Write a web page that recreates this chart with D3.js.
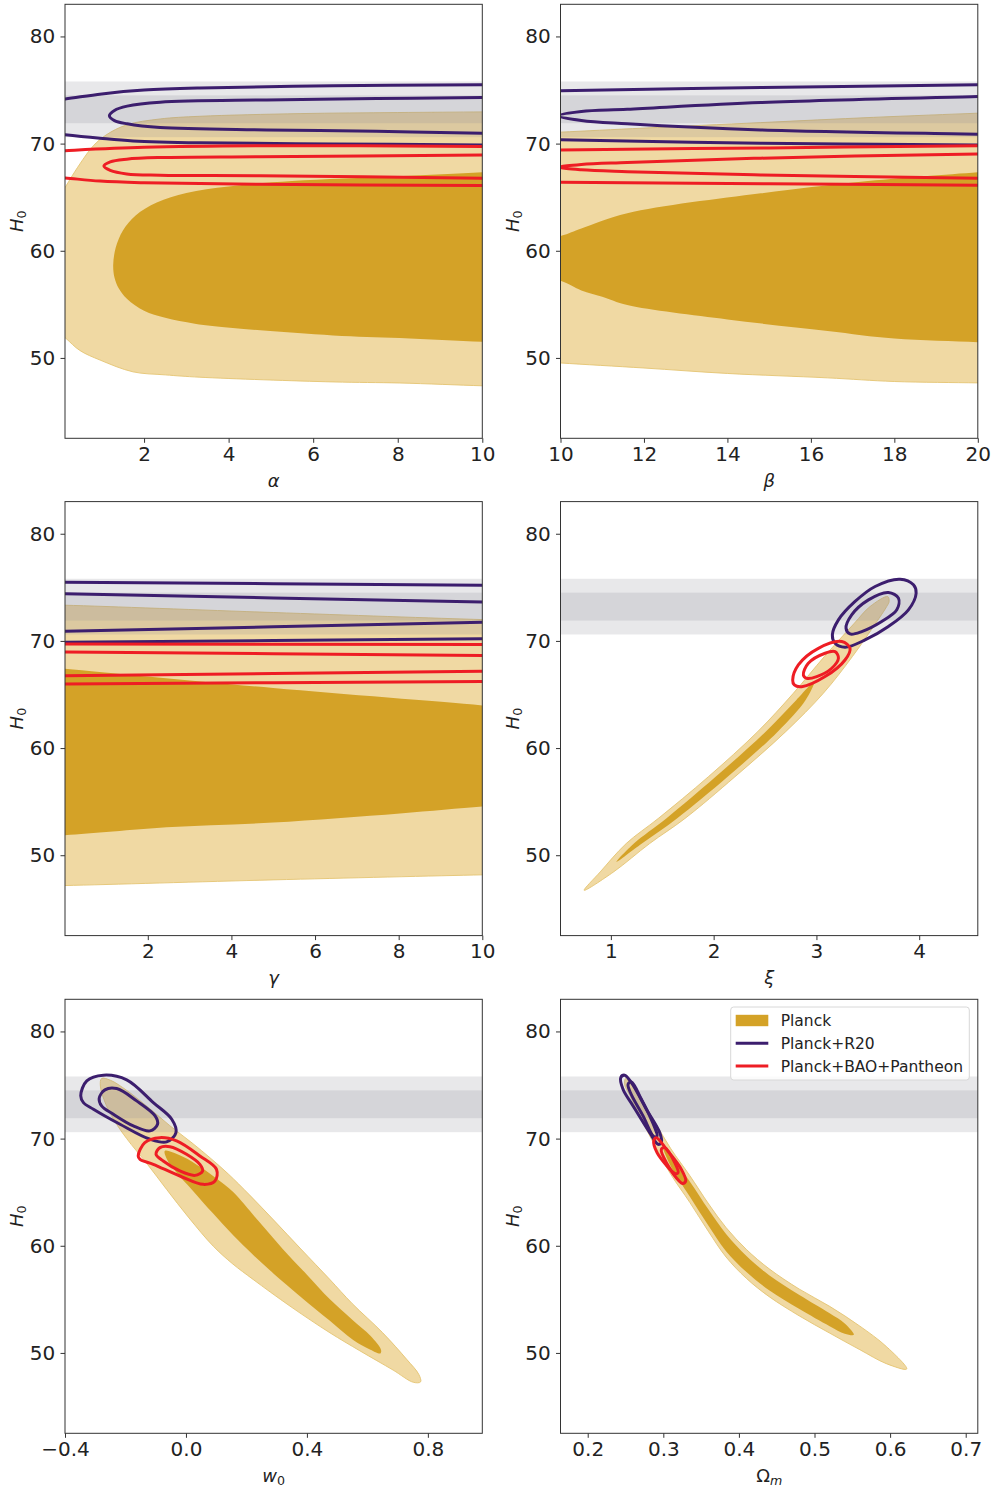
<!DOCTYPE html>
<html>
<head>
<meta charset="utf-8">
<script src="https://cdn.jsdelivr.net/npm/d3@7"></script>
<style>
body { margin: 0; background: #fff; }
text { font-family: "DejaVu Sans", sans-serif; fill: #222; }
</style>
</head>
<body>
<script>
// H0 local measurement (R20), drawn as 1 and 2 sigma bands
const r20Mean = 73.2;
const r20Sigma = 1.3;

const yTicks = [50, 60, 70, 80];
const alphaTicks = [2, 4, 6, 8, 10];
const betaTicks = [10, 12, 14, 16, 18, 20];
const gammaTicks = [2, 4, 6, 8, 10];
const xiTicks = [1, 2, 3, 4];
const w0Ticks = [-0.4, 0, 0.4, 0.8];
const omTicks = [0.2, 0.3, 0.4, 0.5, 0.6, 0.7];

const h0Range = [42.5, 83];
const alphaRange = [0.13, 10];
const betaRange = [10, 20];
const gammaRange = [0.02, 10];
const xiRange = [0.51, 4.57];
const w0Range = [-0.4, 0.98];
const omRange = [0.164, 0.716];

// contours: [parameter, H0], closed outlines (points past the frame get clipped)
const alphaPlanck2 = [[-1, 59.2], [0.13, 65.9], [0.3, 67.0], [0.55, 68.5], [0.8, 69.8], [1.1, 70.8], [1.59, 71.75], [2.38, 72.3], [3.32, 72.55], [5.69, 72.8], [8, 72.9], [10, 72.96], [11, 73.0], [11, 47.3], [10, 47.4], [8.05, 47.66], [6.47, 47.76], [3.32, 48.2], [2.5, 48.42], [1.74, 48.7], [0.96, 49.8], [0.48, 50.7], [0.13, 51.9], [-1, 55.7]];
const alphaPlanck1 = [[1.27, 58.7], [1.33, 60.3], [1.5, 61.9], [1.8, 63.3], [2.3, 64.5], [3.0, 65.4], [4.0, 66.0], [5.5, 66.5], [8, 66.95], [10, 67.33], [11, 67.5], [11, 51.4], [10, 51.5], [8.05, 51.85], [6.47, 52.1], [4.1, 52.8], [3.2, 53.2], [2.5, 53.75], [2.0, 54.4], [1.6, 55.5], [1.4, 56.5], [1.3, 57.5]];
const alphaR20_2 = [[-1, 73.6], [0.13, 74.16], [1.0, 74.64], [2.0, 75.0], [3.32, 75.2], [6.47, 75.4], [10, 75.5], [11, 75.5], [11, 69.88], [10, 69.88], [6.47, 69.97], [3.32, 70.07], [1.74, 70.25], [0.96, 70.5], [0.13, 70.83], [-1, 71.4]];
const alphaR20_1 = [[1.18, 72.6], [1.3, 73.1], [1.6, 73.5], [2.38, 73.87], [4.9, 74.08], [7.5, 74.2], [10, 74.3], [11, 74.35], [11, 70.95], [10, 70.97], [7.5, 71.15], [4.9, 71.28], [2.38, 71.5], [1.6, 71.85], [1.3, 72.15]];
const alphaBAO_2 = [[-1, 69.1], [0.13, 69.34], [2, 69.65], [4.74, 69.8], [10, 69.74], [11, 69.74], [11, 66.1], [10, 66.1], [4.74, 66.2], [2, 66.35], [0.96, 66.5], [0.13, 66.8], [-1, 67.2]];
const alphaBAO_1 = [[1.05, 67.9], [1.2, 68.3], [1.59, 68.55], [2.38, 68.7], [4.74, 68.78], [10, 68.94], [11, 69.0], [11, 66.75], [10, 66.77], [4.74, 67.0], [2.38, 67.05], [1.59, 67.17], [1.2, 67.5]];

const betaPlanck2 = [[9, 70.9], [10, 71.07], [12, 71.45], [14.8, 71.96], [17.5, 72.45], [20, 72.84], [21, 73.0], [21, 47.6], [20, 47.67], [18, 47.8], [16.4, 48.14], [14.0, 48.55], [12, 49.06], [10, 49.53], [9, 49.8]];
const betaPlanck1 = [[8, 59.5], [10, 61.37], [10.5, 62.08], [11.6, 63.5], [14.8, 65.36], [17.2, 66.45], [20, 67.33], [21, 67.6], [21, 51.3], [20, 51.47], [18, 51.81], [16.4, 52.52], [14, 53.59], [11.6, 54.93], [11, 55.7], [10.5, 56.3], [10, 57.2], [8, 59.0]];
const betaR20_2 = [[9, 74.85], [10, 74.93], [14.8, 75.23], [20, 75.49], [21, 75.55], [21, 69.85], [20, 69.88], [14.8, 70.04], [10, 70.35], [9, 70.45]];
const betaR20_1 = [[9.95, 72.6], [10.5, 73.0], [11.6, 73.2], [14.8, 73.83], [20, 74.4], [21, 74.5], [21, 70.8], [20, 70.88], [14.8, 71.28], [11.6, 71.85], [10.5, 72.15]];
const betaBAO_2 = [[9, 69.35], [10, 69.41], [15, 69.6], [20, 69.81], [21, 69.85], [21, 66.1], [20, 66.11], [15, 66.25], [10, 66.39], [9, 66.42]];
const betaBAO_1 = [[9.97, 67.79], [10.5, 68.05], [11.6, 68.23], [14.8, 68.64], [20, 69.04], [21, 69.1], [21, 66.7], [20, 66.76], [14.8, 67.07], [11.6, 67.38], [10.5, 67.55]];

const gammaPlanck2 = [[-1, 73.4], [0.02, 73.33], [5, 72.65], [10, 71.99], [11, 71.9], [11, 48.25], [10, 48.17], [5, 47.7], [0.02, 47.17], [-1, 47.1]];
const gammaPlanck1 = [[-1, 67.8], [0.02, 67.41], [5, 65.6], [10, 63.98], [11, 63.6], [11, 54.8], [10, 54.55], [8.03, 53.9], [5, 53.05], [2.45, 52.6], [0.02, 51.87], [-1, 51.8]];
const gammaR20_2 = [[-1, 75.5], [0.02, 75.48], [10, 75.2], [11, 75.17], [11, 70.25], [10, 70.21], [0.02, 69.87], [-1, 69.84]];
const gammaR20_1 = [[-1, 74.47], [0.02, 74.39], [10, 73.64], [11, 73.56], [11, 71.82], [10, 71.74], [0.02, 70.9], [-1, 70.82]];
const gammaBAO_2 = [[-1, 69.73], [0.02, 69.72], [10, 69.66], [11, 69.65], [11, 66.24], [10, 66.22], [0.02, 65.98], [-1, 65.96]];
const gammaBAO_1 = [[-1, 69.0], [0.02, 68.97], [10, 68.63], [11, 68.6], [11, 67.2], [10, 67.16], [0.02, 66.76], [-1, 66.72]];

const xiPlanck2 = [[0.740, 46.73], [0.896, 48.44], [1.149, 51.09], [1.461, 53.43], [1.948, 57.32], [2.428, 61.53], [2.775, 65.11], [3.077, 68.54], [3.369, 71.65], [3.522, 73.21], [3.694, 74.14], [3.707, 73.68], [3.684, 73.21], [3.577, 71.65], [3.350, 68.54], [3.067, 65.11], [2.701, 61.53], [2.207, 57.32], [1.721, 53.43], [1.377, 51.09], [1.026, 48.44]];
const xiPlanck1 = [[1.055, 49.38], [1.224, 51.09], [1.539, 53.43], [2.019, 57.32], [2.506, 61.53], [2.805, 64.49], [2.980, 66.20], [2.895, 64.49], [2.623, 61.53], [2.136, 57.32], [1.643, 53.43], [1.302, 51.09]];
const xiR20_2 = [[3.155, 70.56], [3.214, 71.96], [3.376, 73.68], [3.571, 75.08], [3.814, 75.76], [3.944, 75.23], [3.970, 74.45], [3.895, 72.90], [3.700, 71.34], [3.473, 70.09], [3.278, 69.41], [3.181, 69.78]];
const xiR20_1 = [[3.288, 71.18], [3.343, 72.43], [3.506, 73.83], [3.700, 74.52], [3.798, 73.99], [3.782, 72.90], [3.635, 71.81], [3.441, 70.87], [3.327, 70.65]];
const xiBAO_2 = [[2.769, 66.36], [2.824, 67.76], [3.019, 69.31], [3.246, 69.94], [3.327, 69.31], [3.278, 68.22], [3.084, 66.67], [2.857, 65.73], [2.785, 65.89]];
const xiBAO_1 = [[2.873, 66.82], [2.921, 67.91], [3.084, 68.85], [3.181, 69.00], [3.214, 68.38], [3.149, 67.45], [3.003, 66.67], [2.905, 66.51]];

const w0Planck2 = [[-0.279, 75.61], [-0.283, 74.9], [-0.265, 73.2], [-0.235, 71.6], [-0.196, 70.0], [-0.13, 67.7], [-0.064, 65.26], [0.01, 62.6], [0.09, 59.97], [0.155, 58.3], [0.222, 56.86], [0.344, 54.37], [0.476, 51.88], [0.575, 50.2], [0.685, 48.4], [0.752, 47.26], [0.776, 47.3], [0.77, 48.0], [0.73, 49.4], [0.65, 51.9], [0.55, 54.6], [0.476, 56.85], [0.38, 59.7], [0.29, 62.4], [0.21, 64.75], [0.14, 66.7], [0.08, 68.2], [0.02, 69.6], [-0.053, 71.2], [-0.12, 72.8], [-0.196, 74.5], [-0.25, 75.45]];
const w0Planck1 = [[-0.07, 68.85], [-0.01, 68.3], [0.05, 67.3], [0.10, 66.3], [0.157, 65.0], [0.24, 62.3], [0.32, 59.7], [0.40, 57.3], [0.476, 55.0], [0.55, 53.1], [0.61, 51.6], [0.645, 50.3], [0.643, 49.95], [0.61, 50.3], [0.553, 51.2], [0.476, 53.0], [0.377, 55.3], [0.29, 57.4], [0.22, 59.2], [0.157, 60.95], [0.09, 63.0], [0.019, 65.26], [-0.03, 66.8], [-0.06, 67.9]];
const w0R20_2 = [[-0.348, 73.99], [-0.328, 75.39], [-0.273, 75.92], [-0.196, 75.48], [-0.108, 73.36], [-0.047, 71.81], [-0.033, 70.56], [-0.064, 69.69], [-0.119, 69.94], [-0.218, 71.34], [-0.306, 72.74], [-0.339, 73.36]];
const w0R20_1 = [[-0.287, 73.74], [-0.268, 74.55], [-0.229, 74.67], [-0.163, 73.52], [-0.102, 72.12], [-0.094, 71.34], [-0.119, 70.72], [-0.174, 71.18], [-0.240, 72.27], [-0.279, 73.05]];
const w0BAO_2 = [[-0.158, 68.38], [-0.136, 69.63], [-0.086, 70.09], [-0.031, 69.78], [0.046, 68.38], [0.101, 67.13], [0.096, 66.04], [0.057, 65.73], [-0.020, 66.51], [-0.108, 67.60], [-0.152, 68.07]];
const w0BAO_1 = [[-0.099, 68.54], [-0.086, 69.16], [-0.053, 69.25], [0.002, 68.54], [0.046, 67.60], [0.055, 66.98], [0.030, 66.57], [-0.020, 66.98], [-0.075, 67.91]];

const omPlanck2 = [[0.25, 75.6], [0.256, 75.2], [0.27, 73.7], [0.29, 71.4], [0.31, 69.05], [0.335, 66.55], [0.36, 63.9], [0.383, 61.7], [0.41, 59.65], [0.44, 57.85], [0.48, 55.95], [0.52, 54.35], [0.56, 52.5], [0.595, 50.6], [0.622, 48.5], [0.595, 49.0], [0.56, 50.3], [0.52, 51.85], [0.48, 53.45], [0.44, 55.25], [0.41, 56.95], [0.383, 58.95], [0.36, 61.3], [0.335, 64.05], [0.31, 66.65], [0.29, 69.2], [0.27, 71.9], [0.256, 74.0], [0.249, 75.0]];
const omPlanck1 = [[0.30, 69.1], [0.31, 68.3], [0.335, 66.0], [0.36, 63.35], [0.383, 61.1], [0.41, 59.05], [0.44, 57.25], [0.48, 55.4], [0.52, 53.7], [0.54, 52.75], [0.552, 51.7], [0.54, 51.8], [0.52, 52.5], [0.48, 54.1], [0.44, 55.85], [0.41, 57.55], [0.383, 59.5], [0.36, 61.85], [0.335, 64.6], [0.31, 67.4]];
const omR20_2 = [[0.2437, 75.70], [0.2489, 75.92], [0.2578, 75.23], [0.2776, 72.74], [0.2952, 70.56], [0.2974, 69.63], [0.2930, 69.47], [0.2820, 70.56], [0.2600, 73.05], [0.2467, 74.61]];
const omR20_1 = [[0.2534, 75.08], [0.2578, 75.29], [0.2710, 73.67], [0.2886, 71.03], [0.2917, 70.25], [0.2877, 70.18], [0.2732, 72.12], [0.2564, 74.30]];
const omBAO_2 = [[0.2873, 69.78], [0.2908, 70.09], [0.3041, 69.00], [0.3239, 67.13], [0.3296, 66.04], [0.3252, 65.82], [0.3085, 67.13], [0.2917, 68.69]];
const omBAO_1 = [[0.2974, 69.00], [0.3019, 69.16], [0.3151, 67.76], [0.3195, 66.82], [0.3151, 66.76], [0.3041, 67.76]];

const legendLabels = ["Planck", "Planck+R20", "Planck+BAO+Pantheon"];

const panels = [
  { label: ["α"], dom: alphaRange, ticks: alphaTicks, fmt: d3.format("d"), c: [alphaPlanck2, alphaPlanck1, alphaR20_2, alphaR20_1, alphaBAO_2, alphaBAO_1] },
  { label: ["β"], dom: betaRange, ticks: betaTicks, fmt: d3.format("d"), c: [betaPlanck2, betaPlanck1, betaR20_2, betaR20_1, betaBAO_2, betaBAO_1] },
  { label: ["γ"], dom: gammaRange, ticks: gammaTicks, fmt: d3.format("d"), c: [gammaPlanck2, gammaPlanck1, gammaR20_2, gammaR20_1, gammaBAO_2, gammaBAO_1] },
  { label: ["ξ"], dom: xiRange, ticks: xiTicks, fmt: d3.format("d"), c: [xiPlanck2, xiPlanck1, xiR20_2, xiR20_1, xiBAO_2, xiBAO_1] },
  { label: ["w", "0"], dom: w0Range, ticks: w0Ticks, fmt: d3.format(".1f"), c: [w0Planck2, w0Planck1, w0R20_2, w0R20_1, w0BAO_2, w0BAO_1] },
  { label: ["Ω", "m"], dom: omRange, ticks: omTicks, fmt: d3.format(".1f"), c: [omPlanck2, omPlanck1, omR20_2, omR20_1, omBAO_2, omBAO_1] }
];

const colPlanck2 = "#f0d9a3", colPlanck1 = "#d4a227";
const colR20 = "#3c1e6e", colBAO = "#ee1d24";

const svg = d3.select("body").append("svg")
  .attr("width", 995)
  .attr("height", 1490);

const colX = [65, 560.5];
const rowY = [4.3, 501.6, 999.3];
const pw = 417.3, ph = 434;

panels.forEach((p, i) => {
  const ox = colX[i % 2], oy = rowY[Math.floor(i / 2)];
  const g = svg.append("g").attr("transform", `translate(${ox},${oy})`);
  const x = d3.scaleLinear().domain(p.dom).range([0, pw]);
  const y = d3.scaleLinear().domain(h0Range).range([ph, 0]);

  g.append("clipPath").attr("id", "clip" + i)
    .append("rect").attr("width", pw).attr("height", ph);
  const body = g.append("g").attr("clip-path", `url(#clip${i})`);

  const line = d3.line()
    .x(d => x(d[0]))
    .y(d => y(d[1]))
    .curve(d3.curveCatmullRomClosed.alpha(0.5));

  body.append("path").attr("d", line(p.c[0]))
    .attr("fill", colPlanck2).attr("stroke", "#e4c472").attr("stroke-width", 0.9);
  body.append("path").attr("d", line(p.c[1])).attr("fill", colPlanck1);

  [2, 1].forEach(k => {
    body.append("rect")
      .attr("x", 0).attr("width", pw)
      .attr("y", y(r20Mean + k * r20Sigma))
      .attr("height", y(r20Mean - k * r20Sigma) - y(r20Mean + k * r20Sigma))
      .attr("fill", "#8b8e98").attr("opacity", 0.2);
  });

  [[2, colR20], [3, colR20], [4, colBAO], [5, colBAO]].forEach(([k, col]) => {
    body.append("path").attr("d", line(p.c[k]))
      .attr("fill", "none").attr("stroke", col).attr("stroke-width", 3);
  });

  g.append("rect").attr("width", pw).attr("height", ph)
    .attr("fill", "none").attr("stroke", "#333").attr("stroke-width", 1);

  const xa = g.append("g").attr("transform", `translate(0,${ph})`)
    .call(d3.axisBottom(x).tickValues(p.ticks).tickFormat(p.fmt).tickSize(4.5).tickPadding(4));
  const ya = g.append("g")
    .call(d3.axisLeft(y).tickValues(yTicks).tickFormat(d3.format("d")).tickSize(4.5).tickPadding(5.3));
  [xa, ya].forEach(a => {
    a.select(".domain").remove();
    a.selectAll("line").attr("stroke", "#333");
    a.selectAll("text").attr("font-size", 20).attr("font-family", "DejaVu Sans").attr("fill", "#222");
  });

  // x label
  const xl = g.append("text").attr("x", pw / 2).attr("y", ph + 48.5)
    .attr("text-anchor", "middle").attr("font-size", 18);
  xl.append("tspan").attr("font-style", p.label[0] === "Ω" ? "normal" : "italic").text(p.label[0]);
  if (p.label[1]) {
    xl.append("tspan").attr("font-size", 12.6).attr("dy", 3)
      .attr("font-style", p.label[1] === "m" ? "italic" : "normal").text(p.label[1]);
  }

  // y label
  const yl = g.append("text")
    .attr("transform", `translate(${23 - 65},${ph / 2}) rotate(-90)`)
    .attr("text-anchor", "middle").attr("font-size", 18);
  yl.append("tspan").attr("font-style", "italic").text("H");
  yl.append("tspan").attr("font-size", 12.6).attr("dy", 3).text("0");
});

// legend (lower right panel)
const lg = svg.append("g");
lg.append("rect").attr("x", 730.7).attr("y", 1007).attr("width", 238.6).attr("height", 73)
  .attr("rx", 3).attr("fill", "#fff").attr("fill-opacity", 0.8)
  .attr("stroke", "#d8d8d8").attr("stroke-width", 1);
const legendY = [1020.5, 1043.3, 1066];
lg.append("rect").attr("x", 735.7).attr("y", legendY[0] - 5.7).attr("width", 32.6).attr("height", 11.4)
  .attr("fill", colPlanck1);
[[1, colR20], [2, colBAO]].forEach(([k, col]) => {
  lg.append("line").attr("x1", 735.7).attr("x2", 768.3)
    .attr("y1", legendY[k]).attr("y2", legendY[k])
    .attr("stroke", col).attr("stroke-width", 3);
});
lg.selectAll("text.leg").data(legendLabels).enter().append("text")
  .attr("class", "leg")
  .attr("x", 780.7)
  .attr("y", (d, i) => legendY[i] + 5.5)
  .attr("font-size", 15.5)
  .text(d => d);
</script>
</body>
</html>
